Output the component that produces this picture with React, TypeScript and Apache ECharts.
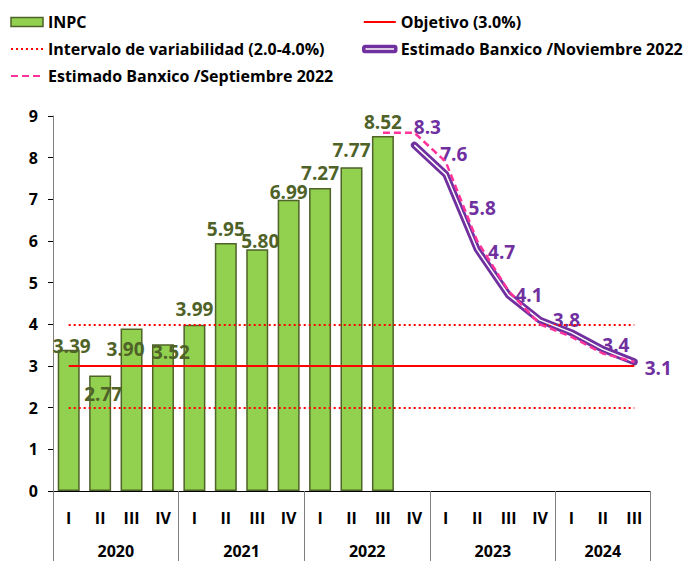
import React, { useEffect, useRef } from "react";
import * as echarts from "echarts";

const quarters = ["I", "II", "III", "IV", "I", "II", "III", "IV", "I", "II", "III", "IV", "I", "II", "III", "IV", "I", "II", "III"];
const years = ["2020", "2021", "2022", "2023", "2024"];
const yearBounds = [0, 4, 8, 12, 16, 19];
const yearCenters = [2, 6, 10, 14, 17.5];

const inpc = [3.39, 2.77, 3.9, 3.52, 3.99, 5.95, 5.8, 6.99, 7.27, 7.77, 8.52];
const inpcLabels = ["3.39", "2.77", "3.90", "3.52", "3.99", "5.95", "5.80", "6.99", "7.27", "7.77", "8.52"];
const objetivo = 3.0;
const intervalo = [2.0, 4.0];
const estSep = [null, null, null, null, null, null, null, null, null, null, 8.6, 8.6, 7.9, 6.0, 4.8, 4.0, 3.7, 3.3, 3.1];
const estNov = [null, null, null, null, null, null, null, null, null, null, null, 8.3, 7.6, 5.8, 4.7, 4.1, 3.8, 3.4, 3.1];

const FONT = "Open Sans";
const GREEN = "#92d050";
const DKGREEN = "#4f6228";
const PURPLE = "#7030a0";
const PINK = "#ff3399";
const RED = "#ff0000";

const barLabelOffsets = [[3, 9], [3, 31], [-6, 33], [8, 20], [0, -3], [0, -2], [3, 4], [0, 5], [0, -3], [0, -5], [0, -2]];
const novLabelOffsets = [[13, -18], [8, -20], [5, -41], [-7, -43], [-11, -25], [-5, -13], [13, -4], [24, 6]];

export default function App() {
  const ref = useRef<HTMLDivElement>(null);
  useEffect(() => {
    if (!ref.current) return;
    const chart = echarts.init(ref.current, null, { renderer: "svg" });
    const lastIdx = quarters.length - 1;
    const barData = inpc.map((v, i) => ({
      value: v,
      label: { offset: barLabelOffsets[i], formatter: inpcLabels[i] },
    }));
    let k = 0;
    const novData = estNov.map((v) => {
      if (v == null) return null;
      const off = novLabelOffsets[k++];
      return { value: v, label: { show: true, offset: off } };
    });
    const hline = (y: number) => [
      { xAxis: 0, yAxis: y },
      { xAxis: lastIdx, yAxis: y },
    ];
    const legendText = { fontFamily: FONT, fontWeight: "bold", fontSize: 16, color: "#000" };
    const noSym = { opacity: 0 };
    chart.setOption({
      animation: false,
      textStyle: { fontFamily: FONT },
      grid: { left: 53, right: 33, top: 116, bottom: 70, containLabel: false },
      legend: [
        {
          orient: "vertical",
          left: 5,
          top: 9,
          itemWidth: 32,
          itemHeight: 9,
          itemGap: 11,
          textStyle: legendText,
          data: [
            { name: "INPC", icon: "rect", itemStyle: { color: GREEN, borderColor: DKGREEN, borderWidth: 1.5 } },
            { name: "Intervalo de variabilidad (2.0-4.0%)", itemStyle: noSym },
            { name: "Estimado Banxico /Septiembre 2022", itemStyle: noSym },
          ],
          selectedMode: false,
        },
        {
          orient: "vertical",
          left: 357,
          top: 9,
          itemWidth: 32,
          itemHeight: 5,
          itemGap: 11,
          textStyle: legendText,
          data: [
            { name: "Objetivo (3.0%)", itemStyle: noSym },
            {
              name: "Estimado Banxico /Noviembre 2022",
              icon: "roundRect",
              itemStyle: { color: "#fff", borderColor: PURPLE, borderWidth: 3.5, opacity: 1 },
            },
          ],
          selectedMode: false,
        },
      ],
      xAxis: [
        {
          type: "category",
          data: quarters,
          boundaryGap: true,
          axisLine: { lineStyle: { color: "#000", width: 1 } },
          axisTick: { show: false },
          axisLabel: { interval: 0, margin: 19, fontFamily: FONT, fontWeight: "bold", fontSize: 16, color: "#000" },
        },
        {
          type: "value",
          min: 0,
          max: quarters.length,
          position: "bottom",
          axisLine: { show: false },
          splitLine: { show: false },
          axisTick: { show: true, customValues: yearBounds, length: 70, lineStyle: { color: "#7f7f7f", width: 1 } },
          axisLabel: {
            customValues: yearCenters,
            margin: 52,
            fontFamily: FONT,
            fontWeight: "bold",
            fontSize: 16,
            color: "#000",
            formatter: (v: number) => years[yearCenters.indexOf(v)] ?? "",
          },
        },
      ],
      yAxis: {
        type: "value",
        min: 0,
        max: 9,
        interval: 1,
        splitLine: { show: false },
        axisLine: { show: true, lineStyle: { color: "#7f7f7f", width: 1 } },
        axisTick: { show: true, length: 5, lineStyle: { color: "#000" } },
        axisLabel: { margin: 15, fontFamily: FONT, fontWeight: "bold", fontSize: 16, color: "#000" },
      },
      series: [
        {
          name: "INPC",
          type: "bar",
          data: barData,
          barWidth: "70%",
          itemStyle: { color: GREEN, borderColor: DKGREEN, borderWidth: 1.5 },
          label: {
            show: true,
            position: "top",
            distance: 3,
            color: DKGREEN,
            fontFamily: FONT,
            fontWeight: "bold",
            fontSize: 19,
          },
          z: 2,
        },
        {
          name: "Objetivo (3.0%)",
          type: "line",
          data: [],
          symbol: "none",
          lineStyle: { color: RED, width: 2 },
          itemStyle: { color: RED },
          markLine: {
            silent: true,
            symbol: ["none", "none"],
            label: { show: false },
            lineStyle: { color: RED, width: 2, type: "solid" },
            data: [hline(objetivo)],
          },
          z: 3,
        },
        {
          name: "Intervalo de variabilidad (2.0-4.0%)",
          type: "line",
          data: [],
          symbol: "none",
          lineStyle: { color: RED, width: 2, type: [2, 3] },
          itemStyle: { color: RED },
          markLine: {
            silent: true,
            symbol: ["none", "none"],
            label: { show: false },
            lineStyle: { color: RED, width: 2, type: [2, 3] },
            data: intervalo.map((y) => hline(y)),
          },
          z: 3,
        },
        {
          name: "Estimado Banxico /Noviembre 2022",
          type: "line",
          data: novData,
          symbol: "circle",
          symbolSize: 1,
          showSymbol: true,
          connectNulls: false,
          lineStyle: { color: PURPLE, width: 7, cap: "round", join: "round" },
          itemStyle: { color: PURPLE },
          label: {
            show: true,
            position: "inside",
            color: PURPLE,
            fontFamily: FONT,
            fontWeight: "bold",
            fontSize: 19,
          },
          z: 4,
        },
        {
          name: "novInner",
          type: "line",
          data: estNov,
          symbol: "none",
          lineStyle: { color: "#ffffff", width: 1.5, join: "round" },
          z: 5,
        },
        {
          name: "Estimado Banxico /Septiembre 2022",
          type: "line",
          data: estSep,
          symbol: "none",
          lineStyle: { color: PINK, width: 2.5, type: [7, 4] },
          itemStyle: { color: PINK },
          z: 6,
        },
      ],
    });
    return () => chart.dispose();
  }, []);
  return <div ref={ref} style={{ width: 683, height: 561, position: "absolute", left: 0, top: 0 }} />;
}
